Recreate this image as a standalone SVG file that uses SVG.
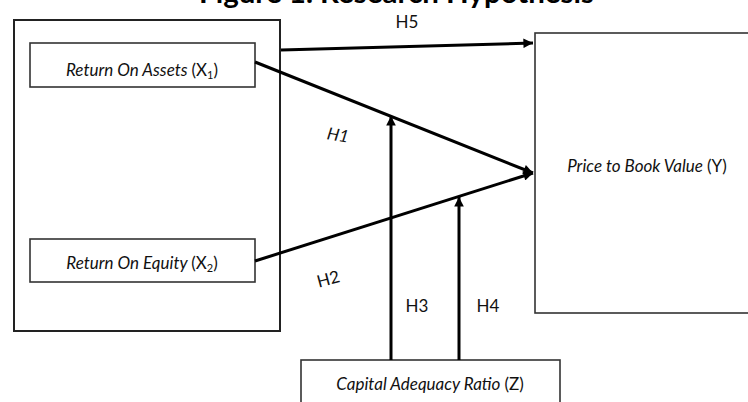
<svg xmlns="http://www.w3.org/2000/svg" width="748" height="402" viewBox="0 0 748 402">
<style>
.box{fill:none;stroke:#222;stroke-width:2}
.ibox{fill:none;stroke:#333;stroke-width:1.6}
.lbl{font-family:Lato,"Liberation Sans",sans-serif;font-size:17px;fill:#111}
.it{font-style:italic}
.h{font-family:Lato,"Liberation Sans",sans-serif;font-size:17px;fill:#111}
.title{font-family:Lato,"Open Sans",sans-serif;font-size:28px;font-weight:bold;fill:#000}
.conn{stroke:#000;stroke-width:3;fill:none}
</style>
<defs>
<marker id="ah" viewBox="0 0 10 10" refX="10" refY="5" markerWidth="3.6" markerHeight="3.2" markerUnits="strokeWidth" orient="auto">
<path d="M0,0 L10,5 L0,10 z" fill="#000"/>
</marker>
</defs>
<rect width="748" height="402" fill="#fff"/>
<text class="title" x="199" y="3" textLength="395" lengthAdjust="spacingAndGlyphs">Figure 1. Research Hypothesis</text>

<g id="outer-x">
<rect class="box" x="14" y="20" width="266" height="311"/>
</g>
<g id="roa">
<rect class="ibox" x="30" y="43" width="225" height="44"/>
<text class="lbl" x="142" y="76" text-anchor="middle"><tspan class="it">Return On Assets </tspan>(X<tspan font-size="11" dy="3">1</tspan><tspan dy="-3">)</tspan></text>
</g>
<g id="roe">
<rect class="ibox" x="30" y="239" width="225" height="43"/>
<text class="lbl" x="142" y="269" text-anchor="middle"><tspan class="it">Return On Equity </tspan>(X<tspan font-size="11" dy="3">2</tspan><tspan dy="-3">)</tspan></text>
</g>
<g id="pbv">
<rect class="ibox" x="535" y="33" width="230" height="280"/>
<text class="lbl" x="647" y="172" text-anchor="middle"><tspan class="it">Price to Book Value </tspan>(Y)</text>
</g>
<g id="car">
<rect class="ibox" x="301" y="360" width="259" height="60"/>
<text class="lbl" x="430" y="390" text-anchor="middle"><tspan class="it">Capital Adequacy Ratio </tspan>(Z)</text>
</g>

<g id="connectors">
<line class="conn" x1="281" y1="50" x2="533" y2="43" marker-end="url(#ah)"/>
<line class="conn" x1="255" y1="62" x2="533" y2="173" marker-end="url(#ah)"/>
<line class="conn" x1="255" y1="261" x2="533" y2="173" marker-end="url(#ah)"/>
<line class="conn" x1="391" y1="360" x2="391" y2="116" marker-end="url(#ah)"/>
<line class="conn" x1="459" y1="360" x2="459" y2="197" marker-end="url(#ah)"/>
<text class="h" x="407" y="28" text-anchor="middle">H5</text>
<text class="h it" x="338" y="141" text-anchor="middle" transform="rotate(10 338 135)">H1</text>
<text class="h" x="328" y="285" text-anchor="middle" transform="rotate(-15 328 278)">H2</text>
<text class="h" x="417" y="312" text-anchor="middle">H3</text>
<text class="h" x="488" y="312" text-anchor="middle">H4</text>
</g>
</svg>
